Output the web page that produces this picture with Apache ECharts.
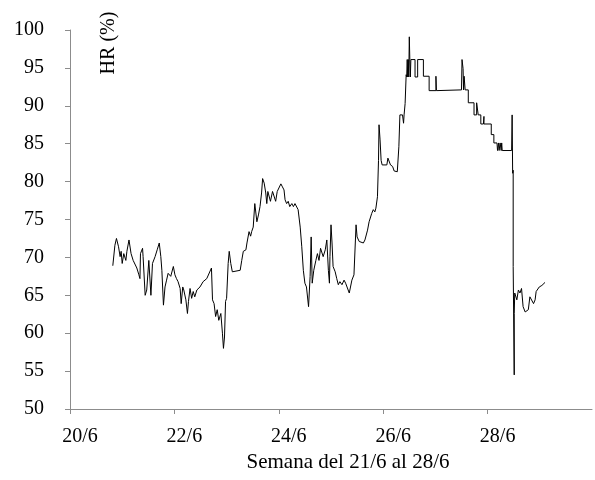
<!DOCTYPE html>
<html>
<head>
<meta charset="utf-8">
<script src="https://cdn.jsdelivr.net/npm/echarts@6/dist/echarts.min.js"></script>
<style>
  html, body { margin: 0; padding: 0; background: #fff; }
  #grafico { width: 595px; height: 480px; }
</style>
</head>
<body>
<div id="grafico"></div>
<script>
// dia del mes (fraccion = hora del dia) y humedad relativa (%)
const dias = [
    20.82, 20.86, 20.89, 20.93, 20.96, 20.98, 21.00, 21.03, 21.07, 21.09,
    21.13, 21.17, 21.21, 21.28, 21.32, 21.34, 21.35, 21.39, 21.40, 21.44,
    21.47, 21.51, 21.55, 21.58, 21.63, 21.67, 21.71, 21.74, 21.76, 21.79,
    21.82, 21.85, 21.88, 21.93, 21.98, 22.01, 22.04, 22.07, 22.11, 22.13,
    22.16, 22.18, 22.22, 22.25, 22.27, 22.30, 22.33, 22.36, 22.39, 22.43,
    22.49, 22.55, 22.62, 22.71, 22.73, 22.76, 22.79, 22.82, 22.85, 22.89,
    22.92, 22.94, 22.96, 22.98, 23.00, 23.03, 23.05, 23.08, 23.11, 23.13,
    23.26, 23.29, 23.32, 23.37, 23.39, 23.43, 23.46, 23.48, 23.51,
    23.54, 23.58, 23.61, 23.64, 23.67, 23.69, 23.72, 23.75, 23.77, 23.79,
    23.82, 23.84, 23.88, 23.91, 23.94, 23.97, 24.00, 24.04, 24.07, 24.10,
    24.12, 24.15, 24.18, 24.21, 24.25, 24.28, 24.31, 24.34, 24.37, 24.41,
    24.44, 24.47, 24.50, 24.53, 24.57, 24.60, 24.62, 24.64, 24.67, 24.71,
    24.74, 24.77, 24.80, 24.83, 24.85, 24.89, 24.92, 24.95, 24.97, 24.98,
    25.00, 25.02, 25.04, 25.08, 25.11, 25.14, 25.17, 25.21, 25.25, 25.28,
    25.31, 25.35, 25.40, 25.44, 25.46, 25.48, 25.50, 25.54, 25.57, 25.62,
    25.65, 25.70, 25.73, 25.78, 25.81, 25.84, 25.86, 25.89, 25.91, 25.92,
    25.94, 25.96, 25.98, 26.07, 26.09, 26.12, 26.14, 26.18, 26.21, 26.27,
    26.30, 26.32, 26.37, 26.39, 26.40, 26.42, 26.44,
    26.45, 26.46, 26.47, 26.48, 26.49, 26.50, 26.51, 26.52, 26.53, 26.61,
    26.61, 26.66, 26.66, 26.77, 26.77, 26.88, 26.88, 27.01, 27.01, 27.02,
    27.02, 27.50, 27.51, 27.53, 27.54, 27.55, 27.57, 27.63, 27.63, 27.74,
    27.74, 27.79, 27.79, 27.82, 27.82, 27.87, 27.87, 27.92, 27.93, 27.93,
    28.07, 28.07, 28.12, 28.12, 28.18, 28.19, 28.21, 28.22, 28.24, 28.26,
    28.27, 28.28, 28.46, 28.47, 28.48, 28.49, 28.49, 28.51, 28.51, 28.52,
    28.56, 28.59, 28.62, 28.65, 28.68, 28.72, 28.78, 28.81, 28.84, 28.88,
    28.91, 28.93, 28.95, 28.99, 29.04, 29.07, 29.10
];
const hr = [
    68.9, 71.6, 72.5, 71.4, 70.1, 70.8, 69.2, 70.5, 69.6, 70.8,
    72.3, 70.5, 69.6, 68.6, 67.7, 67.2, 70.5, 71.2, 70.1, 65.0,
    65.7, 69.6, 65.0, 69.2, 70.1, 71.0, 71.9, 70.1, 68.3, 63.7,
    66.1, 67.0, 67.9, 67.5, 68.8, 67.7, 67.2, 66.8, 65.9, 63.9,
    66.1, 65.7, 64.4, 62.6, 64.2, 65.9, 64.6, 65.5, 64.8, 65.7,
    66.1, 66.8, 67.2, 68.6, 64.4, 63.9, 62.2, 63.1, 61.7, 62.6,
    60.0, 58.0, 59.5, 64.2, 64.6, 69.2, 70.8, 69.2, 68.1, 68.3,
    68.3, 69.6, 70.8, 71.0, 71.9, 73.4, 72.8, 73.4, 74.0,
    77.1, 74.7, 75.6, 76.7, 78.5, 80.4, 79.8, 78.5, 77.1, 78.7,
    78.7, 77.4, 78.7, 78.7, 77.4, 78.7, 78.9, 79.7, 79.3, 78.9,
    77.6, 77.1, 77.4, 76.7, 77.1, 76.7, 77.1, 76.9, 76.3, 74.0,
    71.4, 68.3, 66.6, 66.1, 63.5, 67.5, 72.7, 66.6, 68.3, 69.6,
    70.5, 69.6, 71.2, 71.4, 70.1, 71.0, 72.3, 68.3, 66.6, 70.1,
    74.3, 71.9, 68.8, 68.1, 67.2, 66.4, 66.8, 66.4, 67.0, 66.6,
    66.4, 65.3, 67.0, 67.7, 67.9, 74.3, 72.7, 72.1, 71.9, 71.9,
    72.3, 73.6, 74.7, 75.8, 76.3, 76.0, 76.5, 78.0, 82.8, 87.5,
    85.5, 82.8, 82.2, 82.2, 83.1, 83.1, 82.2, 82.0, 81.4, 81.3,
    84.6, 88.8, 88.8, 87.7, 88.8, 90.3, 94.1,
    93.8, 96.1, 93.8, 96.1, 93.8, 99.1, 96.1, 93.8, 96.1, 96.1,
    93.8, 93.8, 96.1, 96.1, 93.9, 93.9, 92.0, 92.0, 93.9, 93.9,
    92.0, 92.1, 96.1, 94.9, 92.1, 93.9, 92.1, 92.1, 90.4, 90.4,
    88.8, 88.8, 90.4, 90.4, 88.8, 88.8, 87.6, 87.6, 88.6, 87.6,
    87.6, 86.2, 86.2, 85.1, 85.1, 84.1, 85.1, 84.1, 85.1, 84.1,
    85.1, 84.1, 84.1, 88.8, 81.1, 81.5, 68.8, 54.5, 62.6, 65.3,
    64.4, 65.7, 65.3, 65.9, 63.5, 62.8, 63.1, 64.8, 65.0, 63.9,
    64.4, 65.5, 65.7, 66.1, 66.3, 66.4, 66.7
];

const tituloX = 'Semana del 21/6 al 28/6';
const tituloY = 'HR (%)';

const chart = echarts.init(document.getElementById('grafico'));

const fuente = '"Liberation Serif", "Times New Roman", serif';

let option = {
    animation: false,
    grid: {
        left: 70,
        right: 3,
        top: 30,
        bottom: 71
    },
    xAxis: {
        type: 'value',
        min: 20,
        max: 30,
        interval: 2,
        name: tituloX,
        nameLocation: 'middle',
        nameGap: 43,
        nameTextStyle: {
            fontFamily: fuente,
            fontSize: 21,
            color: '#000',
            padding: [0, 0, 0, 34]
        },
        splitLine: { show: false },
        axisLine: {
            lineStyle: { color: '#8c8c8c', width: 1 }
        },
        axisTick: {
            length: 5,
            lineStyle: { color: '#8c8c8c' }
        },
        axisLabel: {
            showMaxLabel: false,
            margin: 18,
            fontFamily: fuente,
            fontSize: 20,
            color: '#000',
            padding: [0, 0, 0, 20],
            formatter: function (v) { return v + '/6'; }
        }
    },
    yAxis: {
        type: 'value',
        min: 50,
        max: 100,
        interval: 5,
        splitLine: { show: false },
        axisLine: {
            show: true,
            lineStyle: { color: '#8c8c8c', width: 1 }
        },
        axisTick: {
            show: true,
            length: 5,
            lineStyle: { color: '#8c8c8c' }
        },
        axisLabel: {
            margin: 26,
            fontFamily: fuente,
            fontSize: 20,
            color: '#000'
        }
    },
    graphic: [{
        type: 'text',
        x: 109,
        y: 43,
        rotation: Math.PI / 2,
        style: {
            text: tituloY,
            font: '20px ' + fuente,
            fill: '#000',
            textAlign: 'center',
            textVerticalAlign: 'middle'
        }
    }],
    series: [{
        type: 'line',
        data: dias.map((d, i) => [d, hr[i]]),
        showSymbol: false,
        symbol: 'none',
        lineStyle: { color: '#000', width: 1 }
    }]
};

chart.setOption(option);
</script>
</body>
</html>
